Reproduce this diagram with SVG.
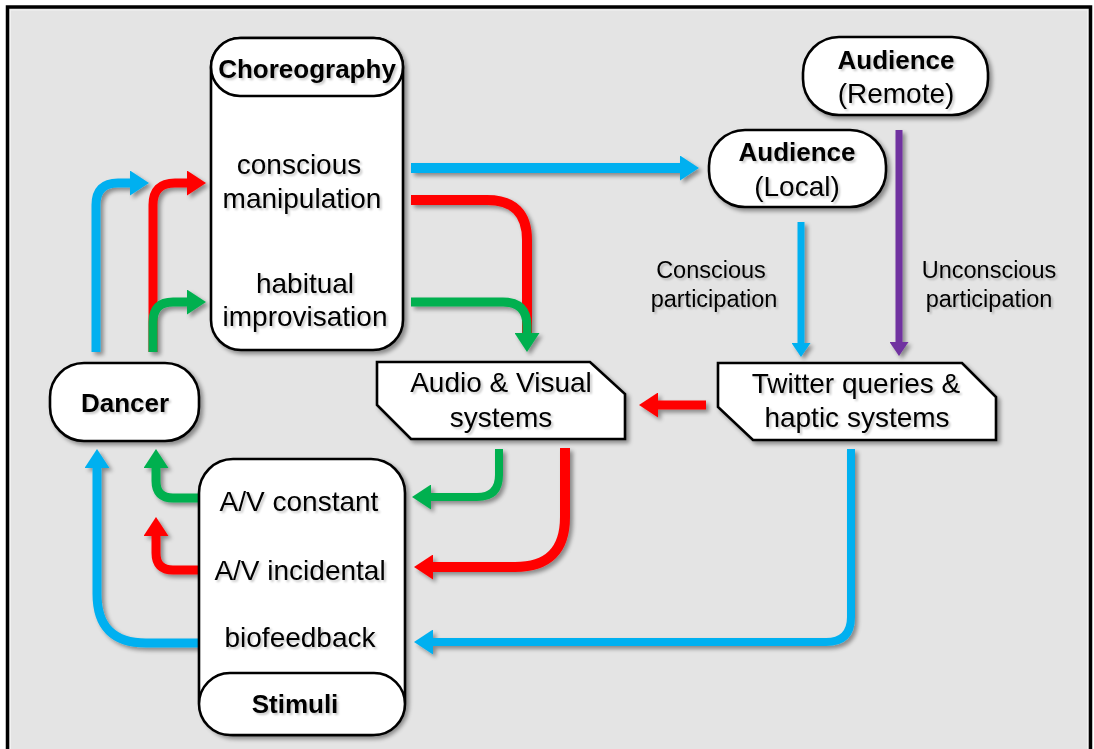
<svg xmlns="http://www.w3.org/2000/svg" width="1094" height="749" viewBox="0 0 1094 749">
  <defs>
    <style>
      .node { fill: #ffffff; stroke: #000000; stroke-width: 2.6; }
      .lbl { font-family: "Liberation Sans", Arial, sans-serif; font-size: 28px; fill: #000000; text-anchor: middle; }
      .ttl { font-family: "Liberation Sans", Arial, sans-serif; font-size: 26px; font-weight: bold; fill: #000000; text-anchor: middle; }
      .sml { font-family: "Liberation Sans", Arial, sans-serif; font-size: 23.5px; fill: #000000; text-anchor: middle; }
      text { filter: url(#textShadow); }
      .ln { fill: none; stroke-linejoin: round; }
      .blue { stroke: #00B0F0; }
      .red { stroke: #FF0000; }
      .green { stroke: #00B050; }
      .purple { stroke: #7030A0; }
    </style>
    <filter id="shadow" x="-10%" y="-10%" width="130%" height="130%">
      <feGaussianBlur in="SourceAlpha" stdDeviation="2"/>
      <feOffset dx="3" dy="3" result="off"/>
      <feComponentTransfer><feFuncA type="linear" slope="0.4"/></feComponentTransfer>
      <feMerge><feMergeNode/><feMergeNode in="SourceGraphic"/></feMerge>
    </filter>
    <filter id="textShadow" x="-10%" y="-20%" width="130%" height="150%">
      <feGaussianBlur in="SourceAlpha" stdDeviation="1.2"/>
      <feOffset dx="2" dy="2" result="off"/>
      <feComponentTransfer><feFuncA type="linear" slope="0.22"/></feComponentTransfer>
      <feMerge><feMergeNode/><feMergeNode in="SourceGraphic"/></feMerge>
    </filter>
    <!-- large arrowheads: 19 long, 25 wide -->
    <marker id="hBlue" markerUnits="userSpaceOnUse" viewBox="0 0 19 25" refX="0" refY="12.5" markerWidth="19" markerHeight="25" orient="auto"><path d="M0,0 L19,12.5 L0,25 Z" fill="#00B0F0"/></marker>
    <marker id="hRed" markerUnits="userSpaceOnUse" viewBox="0 0 19 25" refX="0" refY="12.5" markerWidth="19" markerHeight="25" orient="auto"><path d="M0,0 L19,12.5 L0,25 Z" fill="#FF0000"/></marker>
    <marker id="hGreen" markerUnits="userSpaceOnUse" viewBox="0 0 19 25" refX="0" refY="12.5" markerWidth="19" markerHeight="25" orient="auto"><path d="M0,0 L19,12.5 L0,25 Z" fill="#00B050"/></marker>
    <!-- small arrowheads: 14 long, 19 wide -->
    <marker id="sBlue" markerUnits="userSpaceOnUse" viewBox="0 0 14 19" refX="0" refY="9.5" markerWidth="14" markerHeight="19" orient="auto"><path d="M0,0 L14,9.5 L0,19 Z" fill="#00B0F0"/></marker>
    <marker id="sPurple" markerUnits="userSpaceOnUse" viewBox="0 0 14 19" refX="0" refY="9.5" markerWidth="14" markerHeight="19" orient="auto"><path d="M0,0 L14,9.5 L0,19 Z" fill="#7030A0"/></marker>
  </defs>

  <!-- frame -->
  <rect x="7.5" y="7" width="1083" height="760" fill="#e4e4e4" stroke="#000000" stroke-width="3.5"/>
  <rect x="10.5" y="10" width="1077" height="760" fill="none" stroke="#f2f2f2" stroke-width="1"/>

  <g id="connectors" filter="url(#shadow)">
    <!-- dancer -> choreography -->
    <path class="ln blue" stroke-width="9" d="M96,352 V205 Q96,183 118,183 H130" marker-end="url(#hBlue)"/>
    <path class="ln red" stroke-width="9" d="M153,352 V205 Q153,183 175,183 H187" marker-end="url(#hRed)"/>
    <path class="ln green" stroke-width="9" d="M153,352 V322 Q153,302 173,302 H187" marker-end="url(#hGreen)"/>
    <!-- choreography -> audience / systems -->
    <path class="ln blue" stroke-width="10" d="M411,168 H680" marker-end="url(#hBlue)"/>
    <path class="ln red" stroke-width="10" d="M411,200 H487 Q527,200 527,240 V340"/>
    <path class="ln green" stroke-width="9" d="M411,302 H503 Q527,302 527,326 V333" marker-end="url(#hGreen)"/>
    <!-- audiences -> twitter -->
    <path class="ln blue" stroke-width="7" d="M801,222 V343" marker-end="url(#sBlue)"/>
    <path class="ln purple" stroke-width="7" d="M899,130 V342" marker-end="url(#sPurple)"/>
    <!-- twitter -> audio & visual -->
    <path class="ln red" stroke-width="9" d="M706,405 H658" marker-end="url(#hRed)"/>
    <!-- systems -> stimuli -->
    <path class="ln green" stroke-width="8" d="M499,449 V475 Q499,497 477,497 H431" marker-end="url(#hGreen)"/>
    <path class="ln red" stroke-width="10" d="M565,448 V517 Q565,567 515,567 H433" marker-end="url(#hRed)"/>
    <path class="ln blue" stroke-width="8" d="M851,449 V617 Q851,642 826,642 H433" marker-end="url(#hBlue)"/>
    <!-- stimuli -> dancer -->
    <path class="ln green" stroke-width="9" d="M199,498 H173 Q156,498 156,481 V468" marker-end="url(#hGreen)"/>
    <path class="ln red" stroke-width="9" d="M199,570 H173 Q156,570 156,553 V536" marker-end="url(#hRed)"/>
    <path class="ln blue" stroke-width="9" d="M199,643 H146 Q97,643 97,594 V468" marker-end="url(#hBlue)"/>
  </g>

  <g id="choreography">
    <rect class="node" x="211" y="38" width="192" height="312" rx="30" filter="url(#shadow)"/>
    <rect class="node" x="211" y="38" width="192" height="58" rx="29"/>
    <text class="ttl" x="307" y="78" font-size="25">Choreography</text>
    <text class="lbl" x="299" y="174">conscious</text>
    <text class="lbl" x="302" y="208">manipulation</text>
    <text class="lbl" x="305" y="293">habitual</text>
    <text class="lbl" x="305" y="326">improvisation</text>
  </g>

  <g id="dancer">
    <rect class="node" x="50" y="363" width="149" height="78" rx="34" filter="url(#shadow)"/>
    <text class="ttl" x="125" y="412">Dancer</text>
  </g>

  <g id="stimuli">
    <rect class="node" x="199" y="459" width="206" height="276" rx="34" filter="url(#shadow)"/>
    <rect class="node" x="199" y="673" width="206" height="62" rx="31"/>
    <text class="lbl" x="299" y="511">A/V constant</text>
    <text class="lbl" x="300" y="580">A/V incidental</text>
    <text class="lbl" x="300" y="647">biofeedback</text>
    <text class="ttl" x="295" y="713">Stimuli</text>
  </g>

  <g id="audience-remote">
    <rect class="node" x="803" y="37" width="185" height="78" rx="36" filter="url(#shadow)"/>
    <text class="ttl" x="896" y="69">Audience</text>
    <text class="lbl" x="896" y="103">(Remote)</text>
  </g>

  <g id="audience-local">
    <rect class="node" x="709" y="130" width="177" height="77" rx="36" filter="url(#shadow)"/>
    <text class="ttl" x="797" y="161">Audience</text>
    <text class="lbl" x="797" y="196">(Local)</text>
  </g>

  <g id="audio-visual">
    <path class="node" d="M377,362 L590,362 L625,394 L625,439 L411,439 L377,405 Z" filter="url(#shadow)"/>
    <text class="lbl" x="501" y="392">Audio &amp; Visual</text>
    <text class="lbl" x="501" y="427">systems</text>
  </g>

  <g id="twitter-haptic">
    <path class="node" d="M718,363 L962,363 L996,397 L996,440 L753,440 L718,407 Z" filter="url(#shadow)"/>
    <text class="lbl" x="856" y="393">Twitter queries &amp;</text>
    <text class="lbl" x="857" y="427">haptic systems</text>
  </g>

  <g id="participation-labels">
    <text class="sml" x="711" y="278">Conscious</text>
    <text class="sml" x="714" y="307">participation</text>
    <text class="sml" x="989" y="278">Unconscious</text>
    <text class="sml" x="989" y="307">participation</text>
  </g>
</svg>
